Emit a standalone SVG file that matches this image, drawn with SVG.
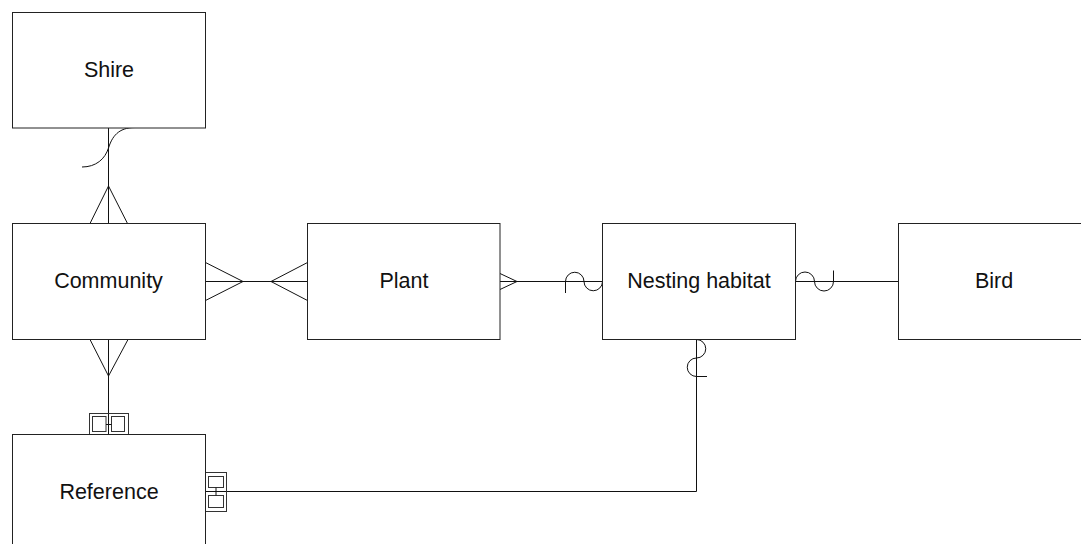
<svg xmlns="http://www.w3.org/2000/svg" width="1081" height="544" viewBox="0 0 1081 544">
  <style>
    .entity rect { fill: #ffffff; stroke: #222222; stroke-width: 1; }
    .entity text { font-family: "Liberation Sans", Arial, sans-serif; font-size: 21.5px; fill: #111111; text-anchor: middle; }
    .edge { fill: none; stroke: #111111; stroke-width: 1; }
    .key { fill: none; stroke: #333333; stroke-width: 1; }
  </style>
  <rect width="1081" height="544" fill="#ffffff"/>

  <!-- relationship lines and their end symbols -->
  <g id="connectors">
    <!-- Shire to Community -->
    <path class="edge" d="M108.5 128 V223.5"/>
    <path class="edge" d="M135 127.5 C118 127.5 112 137 108.5 148 C105 159 96 167 82 167"/>
    <path class="edge" d="M90 223.5 L108.5 186 L127.5 223.5"/>

    <!-- Community to Plant -->
    <path class="edge" d="M205.5 281.5 H307.5"/>
    <path class="edge" d="M205.5 262.5 L243 281.5 L205.5 300.5"/>
    <path class="edge" d="M307.5 262.5 L271 281.5 L307.5 300.5"/>

    <!-- Community to Reference -->
    <path class="edge" d="M108.5 339.5 V434.5"/>
    <path class="edge" d="M90 339.5 L108.5 376 L128 339.5"/>
    <rect class="key" x="89.5" y="413.5" width="39" height="21"/>
    <rect class="key" x="92.5" y="416.5" width="13.5" height="15"/>
    <rect class="key" x="111.5" y="416.5" width="13" height="15"/>
    <path class="edge" d="M106 424.5 H111.5"/>

    <!-- Plant to Nesting habitat -->
    <path class="edge" d="M500 281.5 H602.5"/>
    <path class="edge" d="M500 273.5 L517 281.5 L500 289.5"/>
    <path class="edge" d="M565.5 293 V281.5 A9.25 9.25 0 0 1 584 281.5 A9.25 9.25 0 0 0 602.5 281.5"/>

    <!-- Nesting habitat to Bird -->
    <path class="edge" d="M795.5 281.5 H898.5"/>
    <path class="edge" d="M795.5 281.5 A9.5 9.5 0 0 1 814.5 281.5 A9.5 9.5 0 0 0 833.5 281.5 V270.5"/>

    <!-- Nesting habitat to Reference -->
    <path class="edge" d="M696.5 339.5 V491.5 H205.5"/>
    <path class="edge" d="M696.5 339.5 A9.25 9.25 0 0 1 696.5 358 A9.25 9.25 0 0 0 696.5 376.5 H707"/>
    <rect class="key" x="205.5" y="472.5" width="21" height="39"/>
    <rect class="key" x="208.5" y="476.5" width="15" height="11"/>
    <rect class="key" x="208.5" y="495.5" width="15" height="12"/>
    <path class="edge" d="M216 487.5 V495.5"/>
  </g>

  <g id="shire" class="entity">
    <rect x="12.5" y="12.5" width="193" height="115.5"/>
    <text x="109" y="77">Shire</text>
  </g>
  <g id="community" class="entity">
    <rect x="12.5" y="223.5" width="193" height="116"/>
    <text x="108.5" y="288">Community</text>
  </g>
  <g id="plant" class="entity">
    <rect x="307.5" y="223.5" width="192.5" height="116"/>
    <text x="404" y="288">Plant</text>
  </g>
  <g id="nesting-habitat" class="entity">
    <rect x="602.5" y="223.5" width="193" height="116"/>
    <text x="699" y="288">Nesting habitat</text>
  </g>
  <g id="bird" class="entity">
    <rect x="898.5" y="223.5" width="192" height="116"/>
    <text x="994" y="288">Bird</text>
  </g>
  <g id="reference" class="entity">
    <rect x="12.5" y="434.5" width="193" height="116"/>
    <text x="109" y="499">Reference</text>
  </g>
</svg>
